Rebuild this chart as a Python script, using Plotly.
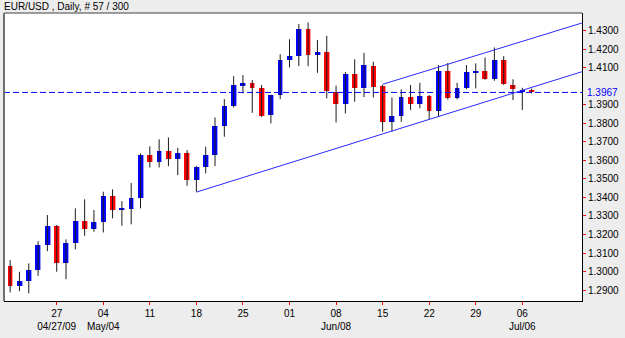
import plotly.graph_objects as go
import pandas as pd

# ---------------- data ----------------
dates = list(pd.bdate_range("2009-04-20", periods=57).strftime("%Y-%m-%d"))

opens = [1.3029, 1.2922, 1.2950, 1.3008, 1.3143, 1.3247, 1.3044, 1.3155, 1.3272, 1.3229,
         1.3269, 1.3409, 1.3334, 1.3337, 1.3395, 1.3629, 1.3589, 1.3652, 1.3606, 1.3638,
         1.3494, 1.3566, 1.3629, 1.3785, 1.3896, 1.4007, 1.4016, 1.3989, 1.3845, 1.3953,
         1.4142, 1.4165, 1.4309, 1.4169, 1.4187, 1.3971, 1.3903, 1.4066, 1.3992, 1.4112,
         1.4001, 1.3805, 1.3839, 1.3944, 1.3903, 1.3949, 1.3866, 1.4084, 1.3935, 1.3989,
         1.4075, 1.4084, 1.4038, 1.4142, 1.4007, 1.3972, 1.3981]
highs = [1.3062, 1.2999, 1.3044, 1.3164, 1.3305, 1.3251, 1.3174, 1.3341, 1.3390, 1.3332,
         1.3431, 1.3444, 1.3380, 1.3478, 1.3638, 1.3676, 1.3714, 1.3724, 1.3668, 1.3656,
         1.3569, 1.3674, 1.3832, 1.3931, 1.4055, 1.4061, 1.4034, 1.4007, 1.3955, 1.4174,
         1.4254, 1.4336, 1.4345, 1.4250, 1.4273, 1.4004, 1.4077, 1.4146, 1.4181, 1.4133,
         1.4007, 1.3940, 1.3984, 1.4007, 1.4019, 1.3953, 1.4115, 1.4126, 1.4019, 1.4115,
         1.4124, 1.4156, 1.4210, 1.4163, 1.4038, 1.3992, 1.3988]
lows = [1.2887, 1.2894, 1.2882, 1.2977, 1.3110, 1.2999, 1.2959, 1.3120, 1.3193, 1.3215,
        1.3211, 1.3287, 1.3247, 1.3255, 1.3341, 1.3562, 1.3562, 1.3569, 1.3521, 1.3463,
        1.3431, 1.3530, 1.3569, 1.3728, 1.3886, 1.3962, 1.3857, 1.3835, 1.3800, 1.3930,
        1.4102, 1.4109, 1.4109, 1.4073, 1.3935, 1.3805, 1.3854, 1.3917, 1.3942, 1.3940,
        1.3755, 1.3755, 1.3809, 1.3872, 1.3881, 1.3823, 1.3836, 1.3929, 1.3930, 1.3984,
        1.3989, 1.4036, 1.4030, 1.4008, 1.3926, 1.3872, 1.3962]
closes = [1.2923, 1.2950, 1.3008, 1.3143, 1.3245, 1.3044, 1.3155, 1.3272, 1.3229, 1.3269,
          1.3409, 1.3332, 1.3338, 1.3395, 1.3630, 1.3589, 1.3652, 1.3606, 1.3641, 1.3494,
          1.3562, 1.3629, 1.3785, 1.3895, 1.4007, 1.4016, 1.3989, 1.3839, 1.3953, 1.4142,
          1.4163, 1.4309, 1.4169, 1.4183, 1.3974, 1.3903, 1.4066, 1.3989, 1.4115, 1.3996,
          1.3807, 1.3839, 1.3944, 1.3903, 1.3949, 1.3866, 1.4084, 1.3935, 1.3989, 1.4075,
          1.4084, 1.4038, 1.4142, 1.4012, 1.3984, 1.3980, 1.3967]

last_price = 1.3967

# trend channel (bar index, price)
lower_trend_x = [20, 61.4]
lower_trend_y = [1.3429, 1.4079]
upper_trend_x = [40, 61.4]
upper_trend_y = [1.4011, 1.4342]

y_ticks = [1.29, 1.30, 1.31, 1.32, 1.33, 1.34, 1.35, 1.36, 1.37, 1.38, 1.39, 1.40 - 0.0, 1.41, 1.42, 1.43]
y_ticks = [v for v in y_ticks if abs(v - 1.40) > 1e-9]  # 1.4000 label not shown
x_tick_idx = [5, 10, 15, 20, 25, 30, 35, 40, 45, 50, 55]
x_tick_text = ["27<br>04/27/09", "04<br>May/04", "11", "18", "25", "01",
               "08<br>Jun/08", "15", "22", "29", "06<br>Jul/06"]

title_text = "EUR/USD , Daily, # 57 / 300"

# ---------------- figure ----------------
idx = list(range(len(dates)))
up = [c >= o for o, c in zip(opens, closes)]

fig = go.Figure()

# wicks
wx, wy = [], []
for i, h, l in zip(idx, highs, lows):
    wx += [i, i, None]
    wy += [l, h, None]
fig.add_trace(go.Scatter(x=wx, y=wy, mode="lines", line=dict(color="#1c1c1c", width=1),
                         hoverinfo="skip", showlegend=False))

def body_trace(mask, color, width, offset):
    xs = [i for i, m in zip(idx, mask) if m]
    base = [min(opens[i], closes[i]) for i in xs]
    hgt = [max(abs(closes[i] - opens[i]), 0.0004) for i in xs]
    return go.Bar(x=xs, y=hgt, base=base, width=width, offset=offset,
                  marker=dict(color=color, line=dict(width=0)), showlegend=False,
                  hoverinfo="skip")

down = [not u for u in up]
fig.add_trace(body_trace(up, "#9a9aff", 0.62, -0.28))
fig.add_trace(body_trace(down, "#ff9a9a", 0.62, -0.28))
fig.add_trace(body_trace(up, "#0000ff", 0.52, -0.28))
fig.add_trace(body_trace(down, "#ff0000", 0.52, -0.28))

# trend channel
fig.add_trace(go.Scatter(x=lower_trend_x, y=lower_trend_y, mode="lines",
                         line=dict(color="#2a2aff", width=1), showlegend=False, hoverinfo="skip"))
fig.add_trace(go.Scatter(x=upper_trend_x, y=upper_trend_y, mode="lines",
                         line=dict(color="#2a2aff", width=1), showlegend=False, hoverinfo="skip"))

# last price dashed line
fig.add_shape(type="line", xref="paper", x0=0, x1=1, yref="y", y0=last_price, y1=last_price,
              line=dict(color="#0000ff", width=1, dash="6px,3px"), layer="above")

# frame: top/left grey, bottom/right black
fig.add_shape(type="line", xref="paper", yref="paper", x0=0, x1=1, y0=1, y1=1,
              line=dict(color="#404040", width=1))
fig.add_shape(type="line", xref="paper", yref="paper", x0=0, x1=0, y0=0, y1=1,
              line=dict(color="#707070", width=2))

fig.add_annotation(xref="paper", yref="paper", x=0, y=1, xanchor="left", yanchor="bottom",
                   xshift=-2, yshift=-1, text=title_text, showarrow=False,
                   font=dict(family="Liberation Sans, Arial", size=10, color="#000000"))
fig.add_annotation(xref="paper", yref="y", x=1, y=last_price, xanchor="left", yanchor="middle",
                   xshift=3, text=f"{last_price:.4f}", showarrow=False,
                   font=dict(family="Liberation Sans, Arial", size=10, color="#0000ff"))

fig.update_layout(
    width=625, height=338,
    margin=dict(l=4, r=43, t=13, b=37),
    paper_bgcolor="#ededed", plot_bgcolor="#ffffff",
    barmode="overlay", bargap=0,
    font=dict(family="Liberation Sans, Arial", size=10, color="#000000"),
    xaxis=dict(range=[-0.66, 61.41], tickvals=x_tick_idx, ticktext=x_tick_text,
               ticks="outside", ticklen=3, tickcolor="#ff0000", tickwidth=1,
               showgrid=False, zeroline=False, showline=True, linecolor="#000000", linewidth=1,
               fixedrange=True),
    yaxis=dict(side="right", range=[1.2841, 1.4396], tickvals=y_ticks,
               ticktext=[f"{v:.4f}" for v in y_ticks],
               ticks="outside", ticklen=3, tickcolor="#ff0000", tickwidth=1,
               showgrid=False, zeroline=False, showline=True, linecolor="#000000", linewidth=1,
               fixedrange=True),
)

fig.write_html("out.html")
